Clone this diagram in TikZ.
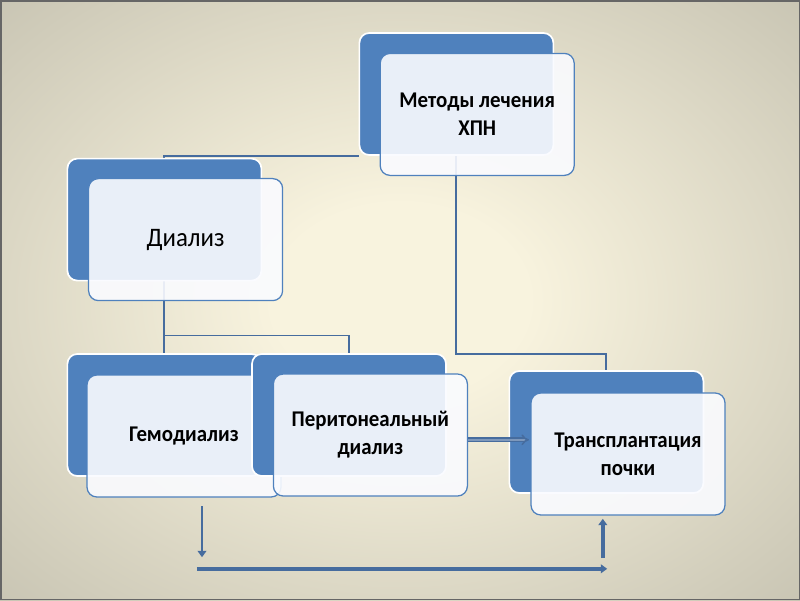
\documentclass[tikz,border=0pt]{standalone}
\usepackage{fontspec}
\setmainfont[FakeStretch=0.93]{Carlito}
\usepackage{xcolor}
\usepackage{tikz}
\usetikzlibrary{arrows.meta,positioning,calc,backgrounds}

\definecolor{boxblue}{RGB}{79,129,189}
\definecolor{lineblue}{RGB}{70,108,158}
\definecolor{frontfill}{RGB}{250,251,255}
\definecolor{bginner}{RGB}{248,243,222}
\definecolor{bgouter}{RGB}{140,138,125}
\pgfdeclareradialshading{slidebg}{\pgfpoint{0bp}{0bp}}{%
  color(0bp)=(bginner); color(8bp)=(bginner); color(71bp)=(bgouter)}
\pgfdeclarelayer{backdrop}
\pgfsetlayers{backdrop,background,main}

\begin{document}
\begin{tikzpicture}[
  back/.style={draw=white, line width=1.2pt, fill=boxblue, rounded corners=7pt,
               minimum width=4.85cm, minimum height=3.05cm},
  front/.style={draw=boxblue, line width=0.9pt, fill=frontfill, fill opacity=0.9,
                text opacity=1, rounded corners=7pt, align=center,
                minimum width=4.85cm, minimum height=3.05cm,
                font=\fontsize{16}{20}\selectfont\bfseries},
  conn/.style={draw=lineblue, line width=1.3pt},
  arr/.style={draw=lineblue, -{Triangle[length=1.6mm, width=2.2mm]}},
  dbl/.style={draw=lineblue, double=lineblue!70!white, double distance=1.4pt,
              line width=1.1pt, -{Implies[length=2.2mm]}}
]
\useasboundingbox (0,0) rectangle (20,-15);
\begin{pgfonlayer}{backdrop}
\shade[shading=slidebg] (0,0) rectangle (20,-15);
\draw[draw=black!60, line width=1pt] (0.02,-0.02) rectangle (19.98,-14.98);
\end{pgfonlayer}

\node[back] (mback) at (11.41,-2.35) {};
\node[front] (mfront) at (11.93,-2.86) {Методы лечения\\ХПН};
\node[back] (dback) at (4.11,-5.49) {};
\node[front, font=\fontsize{19}{23}\selectfont] (dfront) at (4.64,-5.99) {Диализ};
\node[back] (gback) at (4.11,-10.375) {};
\node[front] (gfront) at (4.6,-10.9) {Гемодиализ};
\node[back] (pback) at (8.725,-10.375) {};
\node[front] (pfront) at (9.26,-10.875) {Перитонеальный\\диализ};
\node[back] (tback) at (15.16,-10.8) {};
\node[front] (tfront) at (15.7,-11.35) {Трансплантация\\почки};

\coordinate (dtop) at (5.05,-12.65);
\coordinate (dbot) at (5.05,-13.93);
\coordinate (hleft) at (4.92,-14.22);
\coordinate (hright) at (15.18,-14.22);
\coordinate (ubot) at (15.07,-13.95);
\coordinate (utop) at (15.07,-12.97);

\begin{pgfonlayer}{background}
\draw[conn] (mback.south west) -| (dback.north);
\draw[conn] (mback.south) -- ++(0,-4.95) -| (tback.north);
\draw[conn] (dback.south) -- (gback.north);
\draw[conn] (dback.south) ++(0,-1.35) -| (pback.north);
\end{pgfonlayer}

\draw[dbl] ([yshift=-0.12cm]pfront.east) -- ([xshift=-1pt,yshift=-0.12cm]pfront.east -| tfront.west);
\draw[arr, line width=2pt] (dtop) -- (dbot);
\draw[arr, line width=2.6pt] (hleft) -- (hright);
\draw[arr, line width=3pt] (ubot) -- (utop);
\end{tikzpicture}
\end{document}
